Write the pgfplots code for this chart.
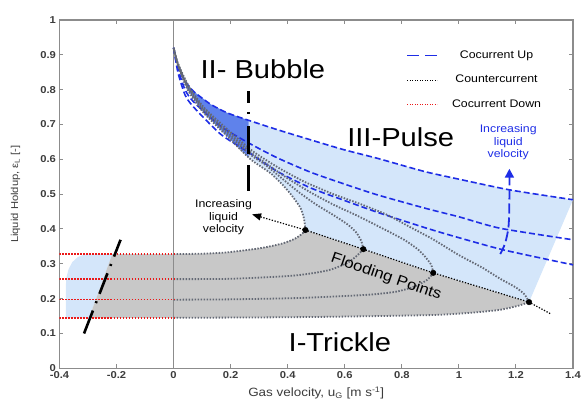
\documentclass[border=0pt]{standalone}
\usepackage{fontspec}
\setmainfont{Liberation Sans}[FakeStretch=1.12]
\usepackage{pgfplots}
\pgfplotsset{compat=1.18}
\usetikzlibrary{arrows.meta}

\definecolor{lblue}{RGB}{212,230,250}
\definecolor{dblue}{RGB}{95,130,235}
\definecolor{lgray}{RGB}{200,200,200}
\definecolor{dashblue}{RGB}{30,45,230}
\definecolor{ccgray}{RGB}{100,105,117}
\definecolor{cdred}{RGB}{235,25,25}
\definecolor{axgray}{RGB}{140,140,140}
\definecolor{txtgray}{RGB}{60,60,60}

\begin{document}
\begin{tikzpicture}
\begin{axis}[name=ax, scale only axis, width=513.5pt, height=348.3pt,
  xmin=-0.4, xmax=1.4, ymin=0, ymax=1,
  xtick={-0.4,-0.2,0,0.2,0.4,0.6,0.8,1,1.2,1.4},
  xticklabels={-0.4,-0.2,0,0.2,0.4,0.6,0.8,1,1.2,1.4},
  ytick={0,0.1,0.2,0.3,0.4,0.5,0.6,0.7,0.8,0.9,1},
  yticklabels={0,0.1,0.2,0.3,0.4,0.5,0.6,0.7,0.8,0.9,1},
  axis line style={axgray, line width=1.3pt},
  tick style={axgray, line width=1pt}, major tick length=4pt, tick align=inside,
  tick label style={font=\bfseries\fontsize{10}{11}\selectfont, text=txtgray},
  xlabel={Gas velocity, u\textsubscript{G} [m s\textsuperscript{-1}]},
  ylabel={Liquid Holdup, ε\textsubscript{L} [-]},
  xlabel style={at={(axis description cs:0.5,-0.0709)}, anchor=center, font=\fontsize{12}{14}\selectfont, text=txtgray},
  ylabel style={at={(axis description cs:-0.0857,0.5)}, anchor=center, font=\fontsize{10}{12}\selectfont, text=txtgray},
  legend image code/.code={\draw[#1] (0pt,0pt) -- (30pt,0pt);},
  legend cell align=center,
  legend style={draw=none, fill=none, at={(axis cs:0.805,0.925)}, anchor=north west,
    font=\fontsize{11}{12}\selectfont, row sep=10pt,
    nodes={inner sep=2pt, text height=8pt, text depth=2.5pt},
    /tikz/every odd column/.append style={column sep=12pt}},
]
\addlegendimage{dashblue, line width=1.6pt, dash pattern=on 12pt off 6pt}
\addlegendentry{Cocurrent Up}
\addlegendimage{black, line width=1pt, dash pattern=on 1.2pt off 1.3pt}
\addlegendentry{Countercurrent}
\addlegendimage{cdred, line width=1pt, dash pattern=on 1.2pt off 1.3pt}
\addlegendentry{Cocurrent Down}

% ---- fills ----
\addplot[fill=lblue, draw=none, forget plot] coordinates {
(-0.215,0.328) (-0.31,0.327) (-0.335,0.32) (-0.355,0.305) (-0.368,0.285) (-0.376,0.26) (-0.378,0.233) (-0.378,0.145) (-0.296,0.145)} -- cycle;
\addplot[fill=lgray, draw=none, forget plot] coordinates {
(-0.215,0.328) (-0.296,0.145) (0,0.145) (0.3,0.146) (0.56,0.148) (0.91,0.153) (1.05,0.16) (1.145,0.168) (1.21,0.18) (1.246,0.19)
(0.91,0.274) (0.665,0.342) (0.462,0.397)
(0.45,0.386) (0.425,0.372) (0.38,0.358) (0.305,0.345) (0.189,0.333) (0.10,0.329) (0,0.328)} -- cycle;
\addplot[fill=lblue, draw=none, forget plot] coordinates {
(0.263,0.712) (0.364,0.685) (0.48,0.656) (0.595,0.628) (0.714,0.603) (0.8,0.583) (0.889,0.563) (1.0,0.543) (1.18,0.512) (1.4,0.484)
(1.246,0.19) (0.91,0.274) (0.665,0.342) (0.462,0.397)
(0.457,0.43) (0.445,0.46) (0.42,0.49) (0.39,0.52) (0.34,0.56) (0.263,0.605)} -- cycle;
\addplot[fill=dblue, draw=none, forget plot] coordinates {
(0,0.92) (0.015,0.87) (0.04,0.825) (0.07,0.795) (0.13,0.758) (0.189,0.733) (0.263,0.712)
(0.263,0.605) (0.189,0.665) (0.105,0.734) (0.049,0.80) (0.015,0.87)} -- cycle;

\addplot[axgray, line width=1.3pt, forget plot] coordinates {(0,0) (0,1)};

% ---- cocurrent up (blue dashed) ----
\addplot[dashblue, line width=1.6pt, dash pattern=on 6pt off 3pt, smooth, tension=0.4, forget plot] coordinates {
(0,0.92) (0.015,0.87) (0.04,0.825) (0.07,0.795) (0.13,0.758) (0.189,0.733) (0.263,0.712) (0.364,0.685) (0.48,0.656) (0.595,0.628) (0.714,0.603) (0.8,0.583) (0.889,0.563) (1.0,0.543) (1.18,0.512) (1.4,0.484)};
\addplot[dashblue, line width=1.6pt, dash pattern=on 6pt off 3pt, smooth, tension=0.4, forget plot] coordinates {
(0,0.92) (0.015,0.86) (0.04,0.80) (0.07,0.765) (0.165,0.695) (0.263,0.647) (0.364,0.604) (0.48,0.563) (0.595,0.53) (0.714,0.498) (0.889,0.458) (1.0,0.435) (1.145,0.402) (1.4,0.369)};
\addplot[dashblue, line width=1.6pt, dash pattern=on 6pt off 3pt, smooth, tension=0.4, forget plot] coordinates {
(0,0.92) (0.015,0.85) (0.04,0.785) (0.07,0.75) (0.165,0.672) (0.263,0.62) (0.364,0.565) (0.48,0.518) (0.595,0.483) (0.714,0.448) (0.888,0.402) (1.0,0.375) (1.156,0.34) (1.4,0.297)};

% ---- countercurrent (gray dotted) ----
\pgfplotsset{cc/.style={ccgray, line width=1.8pt, dash pattern=on 1.5pt off 1.5pt, smooth, tension=0.4, forget plot}}
\addplot[cc] coordinates {(0,0.328) (0.10,0.329) (0.189,0.333) (0.305,0.345) (0.38,0.358) (0.425,0.372) (0.45,0.386) (0.462,0.397)};
\addplot[cc] coordinates {(0.462,0.397) (0.457,0.43) (0.445,0.46) (0.42,0.49) (0.39,0.52) (0.34,0.56) (0.27,0.60) (0.189,0.665) (0.105,0.734) (0.049,0.80) (0.015,0.87) (0,0.92)};
\addplot[cc] coordinates {(0,0.256) (0.2,0.257) (0.42,0.266) (0.54,0.281) (0.61,0.303) (0.645,0.325) (0.665,0.342)};
\addplot[cc] coordinates {(0.665,0.342) (0.658,0.365) (0.64,0.39) (0.61,0.413) (0.56,0.44) (0.5,0.47) (0.44,0.505) (0.38,0.545) (0.32,0.585) (0.27,0.613) (0.19,0.672) (0.105,0.74) (0.05,0.805) (0.015,0.872) (0,0.92)};
\addplot[cc] coordinates {(0,0.197) (0.2,0.198) (0.445,0.202) (0.679,0.211) (0.78,0.22) (0.845,0.235) (0.889,0.254) (0.91,0.274)};
\addplot[cc] coordinates {(0.91,0.274) (0.903,0.297) (0.88,0.322) (0.854,0.343) (0.81,0.368) (0.76,0.39) (0.70,0.415) (0.644,0.438) (0.56,0.47) (0.48,0.505) (0.40,0.545) (0.33,0.585) (0.27,0.62) (0.19,0.678) (0.105,0.745) (0.05,0.81) (0.015,0.874) (0,0.92)};
\addplot[cc] coordinates {(0,0.145) (0.3,0.146) (0.56,0.148) (0.91,0.153) (1.05,0.16) (1.145,0.168) (1.21,0.18) (1.246,0.19)};
\addplot[cc] coordinates {(1.246,0.19) (1.23,0.212) (1.2,0.232) (1.145,0.257) (1.08,0.29) (1.0,0.325) (0.91,0.37) (0.83,0.405) (0.75,0.44) (0.66,0.47) (0.56,0.5) (0.46,0.535) (0.38,0.57) (0.32,0.6) (0.27,0.628) (0.19,0.685) (0.105,0.75) (0.05,0.815) (0.015,0.876) (0,0.92)};

% ---- cocurrent down (red dotted) ----
\pgfplotsset{cd/.style={cdred, line width=1.6pt, dash pattern=on 1.5pt off 1.5pt, forget plot}}
\addplot[cd] coordinates {(-0.4,0.328) (0,0.328)};
\addplot[cd] coordinates {(-0.4,0.256) (0,0.256)};
\addplot[cd] coordinates {(-0.4,0.197) (0,0.197)};
\addplot[cd] coordinates {(-0.4,0.145) (0,0.145)};

% ---- flooding line ----
\addplot[black, line width=1.2pt, dash pattern=on 1.3pt off 1.6pt, -{Triangle[length=9pt,width=7pt]}, forget plot] coordinates {
(1.32,0.157) (1.246,0.19) (0.91,0.274) (0.665,0.342) (0.462,0.397) (0.275,0.442)};
\addplot[only marks, mark=*, mark size=2.8pt, black, forget plot] coordinates {
(0.462,0.397) (0.665,0.342) (0.91,0.274) (1.246,0.19)};

% ---- boundaries ----
\addplot[black, line width=2.6pt, dash pattern=on 12pt off 9pt on 2pt off 12pt on 28pt off 11pt on 26pt, forget plot] coordinates {(0.263,0.795) (0.263,0.497)};
\addplot[black, line width=2.6pt, dash pattern=on 18pt off 8pt on 2pt off 8pt on 22pt off 8pt on 2pt off 8pt on 30pt, forget plot] coordinates {(-0.186,0.369) (-0.314,0.1)};

% ---- blue arrow ----
\addplot[dashblue, line width=1.8pt, dash pattern=on 10pt off 4pt, smooth, tension=0.5, -{Triangle[length=9pt,width=9pt]}, forget plot] coordinates {
(1.145,0.328) (1.162,0.359) (1.174,0.407) (1.177,0.484) (1.177,0.573)};

% ---- texts ----
\node[font=\fontsize{26}{30}\selectfont, anchor=base] at (axis cs:0.313,0.831) {II- Bubble};
\node[font=\fontsize{26}{30}\selectfont, anchor=base] at (axis cs:0.796,0.637) {III-Pulse};
\node[font=\fontsize{26}{30}\selectfont, anchor=base] at (axis cs:0.583,0.048) {I-Trickle};
\node[font=\fontsize{15}{18}\selectfont, rotate=-19] at (axis cs:0.745,0.262) {Flooding Points};
\node[font=\fontsize{11}{12.5}\selectfont, align=center] at (axis cs:0.175,0.433) {Increasing\\liquid\\velocity};
\node[font=\fontsize{11}{12.5}\selectfont, align=center, text=dashblue] at (axis cs:1.173,0.649) {Increasing\\liquid\\velocity};
\end{axis}
\pgfresetboundingbox
\path ([xshift=-59.5pt,yshift=-36.7pt]ax.south west) rectangle ([xshift=8pt,yshift=20pt]ax.north east);
\end{tikzpicture}
\end{document}
